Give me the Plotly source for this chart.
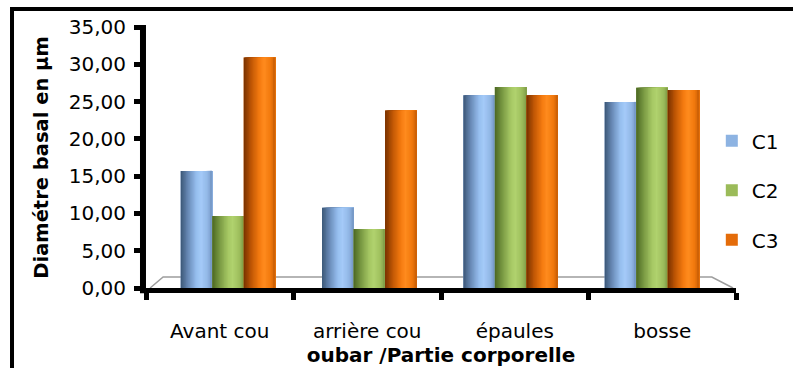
import plotly.graph_objects as go

# ---- data -------------------------------------------------------------
categories = ["Avant cou", "arrière cou", "épaules", "bosse"]
series_names = ["C1", "C2", "C3"]
c1_values = [15.7, 10.75, 25.85, 24.95]
c2_values = [9.65, 7.9, 26.95, 26.85]
c3_values = [30.9, 23.8, 25.85, 26.55]
series_values = [c1_values, c2_values, c3_values]
y_ticks = [0, 5, 10, 15, 20, 25, 30, 35]

# ---- styling ----------------------------------------------------------
FONT = "DejaVu Sans"
flat_colors = ["#8DB3E2", "#9BBB59", "#E46C0A"]
# horizontal shading stops (position across the bar, colour) for a cylinder look
shade_stops = [
    [(0.0, "#3b5676"), (0.25, "#6b8dba"), (0.5, "#97bfef"), (0.65, "#a4caf8"),
     (0.85, "#92b7e6"), (1.0, "#7497c4")],
    [(0.0, "#4b6723"), (0.25, "#7b9b44"), (0.5, "#a5c764"), (0.65, "#b0d26e"),
     (0.85, "#9fbf5e"), (1.0, "#809d47")],
    [(0.0, "#773100"), (0.25, "#c25805"), (0.5, "#f47b10"), (0.65, "#ff8b1e"),
     (0.85, "#f1790d"), (1.0, "#c95e05")],
]
N_STRIPS = 24
BAR_W = 0.223          # width of one bar, in category units


def hex_to_rgb(h):
    h = h.lstrip("#")
    return [int(h[i:i + 2], 16) for i in (0, 2, 4)]


def shade(stops, t):
    for (t0, c0), (t1, c1) in zip(stops[:-1], stops[1:]):
        if t0 <= t <= t1:
            f = (t - t0) / (t1 - t0)
            a, b = hex_to_rgb(c0), hex_to_rgb(c1)
            r = [round(a[j] + (b[j] - a[j]) * f) for j in range(3)]
            return "rgb({},{},{})".format(*r)
    return stops[-1][1]


fig = go.Figure()

for i, (name, vals) in enumerate(zip(series_names, series_values)):
    left = -1.5 * BAR_W + i * BAR_W
    # flat base bar carries the legend entry
    fig.add_trace(go.Bar(
        x=categories, y=vals, name=name, legendgroup=name,
        marker=dict(color=flat_colors[i], line=dict(width=0)),
        offset=left, width=BAR_W, xaxis="x", yaxis="y",
        hoverinfo="skip",
    ))
    # shading strips, each running to the right edge of the bar
    for k in range(N_STRIPS):
        t = k / N_STRIPS
        fig.add_trace(go.Bar(
            x=categories, y=vals, name=name, legendgroup=name, showlegend=False,
            marker=dict(color=shade(shade_stops[i], (k + 0.5) / N_STRIPS),
                        line=dict(width=0)),
            offset=left + t * BAR_W, width=BAR_W * (1 - t),
            xaxis="x", yaxis="y", hoverinfo="skip",
        ))

# empty trace so the label axis gets its own subplot
fig.add_trace(go.Scatter(x=[], y=[], xaxis="x2", yaxis="y", mode="markers",
                         showlegend=False, hoverinfo="skip"))

# light grey floor outline behind the bars
fig.add_shape(type="path", xref="paper", yref="paper", layer="below",
              path="M 0.007,0 L 0.029,0.042 L 0.959,0.042 L 0.995,0",
              line=dict(color="#9d9d9d", width=1.5))

# heavy value-axis line along the left edge of the plot
fig.add_shape(type="line", xref="paper", yref="paper", layer="above",
              x0=-0.0051, x1=-0.0051, y0=-0.02, y1=1.008,
              line=dict(color="black", width=6))

# outer chart frame (left and top edges)
fig.add_shape(type="path", xref="paper", yref="paper",
              path="M -0.2271,-0.36 L -0.2271,1.069 L 1.12,1.069",
              line=dict(color="black", width=4))

fig.update_layout(
    width=793, height=368,
    margin=dict(l=146, r=57, t=27, b=80, autoexpand=False),
    paper_bgcolor="white", plot_bgcolor="white",
    barmode="overlay",
    separators=",.",
    font=dict(family=FONT, size=20, color="black"),
    showlegend=True,
    legend=dict(x=0.959, y=0.639, xanchor="left", yanchor="top",
                font=dict(family=FONT, size=20, color="black"),
                bgcolor="rgba(0,0,0,0)", tracegroupgap=20.5,
                itemclick=False, itemdoubleclick=False),
    # axis carrying the bars (positions follow the bar groups)
    xaxis=dict(type="category", categoryarray=categories, automargin=False,
               range=[-0.580, 3.595], showline=False, showgrid=False,
               zeroline=False, showticklabels=False, ticks=""),
    # axis carrying the category labels and the boundary ticks
    xaxis2=dict(overlaying="x", anchor="y", side="bottom", type="linear",
                automargin=False,
                range=[-0.5, 3.5], tickmode="array",
                tickvals=list(range(len(categories))), ticktext=categories,
                ticks="", showgrid=False, zeroline=False,
                showline=True, linewidth=5, linecolor="black",
                tickfont=dict(family=FONT, size=20, color="black"),
                ticklabelstandoff=21,
                minor=dict(tick0=-0.5, dtick=1, ticks="outside", ticklen=7,
                           tickwidth=5, tickcolor="black", showgrid=False),
                title=dict(text="<b>oubar /Partie corporelle</b>",
                           font=dict(family=FONT, size=20, color="black"),
                           standoff=1)),
    yaxis=dict(range=[0, 35], tickmode="array", tickvals=y_ticks,
               automargin=False,
               tickformat=".2f", showgrid=False, zeroline=False,
               showline=False,
               ticks="outside", ticklen=11, tickwidth=5, tickcolor="black",
               tickfont=dict(family=FONT, size=20, color="black"),
               ticklabelstandoff=4,
               title=dict(text="<b>Diamétre basal en µm</b>",
                          font=dict(family=FONT, size=19.5, color="black"),
                          standoff=14)),
)

fig.write_html("out.html")
